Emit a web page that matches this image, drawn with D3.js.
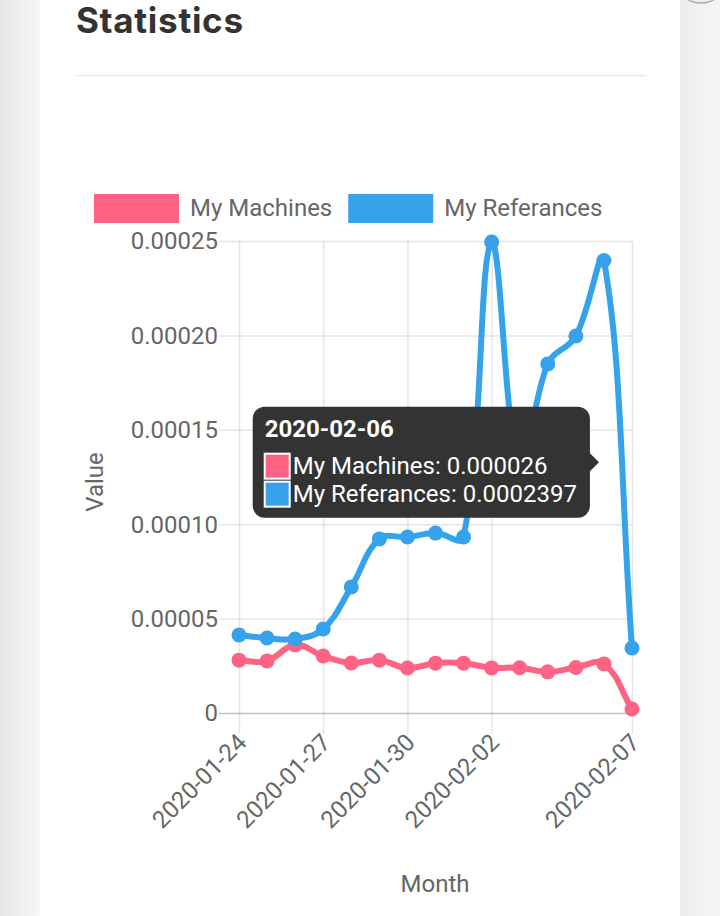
<!DOCTYPE html>
<html>
<head>
<meta charset="utf-8">
<script src="https://cdn.jsdelivr.net/npm/d3@7"></script>
<style>
    html, body { margin: 0; padding: 0; background: #f4f4f4; }
    svg { display: block; }
    text { font-family: Roboto, "Noto Sans", sans-serif; }
</style>
</head>
<body>
<div id="chart"></div>
<script>
// ===========================
// Statistics card
// Two daily series drawn as smooth lines with a hover tooltip
// ===========================

const dates = ['2020-01-24', '2020-01-25', '2020-01-26', '2020-01-27', '2020-01-28',
    '2020-01-29', '2020-01-30', '2020-01-31', '2020-02-01', '2020-02-02',
    '2020-02-03', '2020-02-04', '2020-02-05', '2020-02-06', '2020-02-07'];

const machines = [0.000028, 0.0000276, 0.0000361, 0.0000302, 0.0000265,
    0.000028, 0.0000238, 0.0000264, 0.0000264, 0.0000239,
    0.0000240, 0.0000218, 0.0000241, 0.000026, 0.0000021];

const referances = [0.0000413, 0.0000397, 0.0000392, 0.0000445, 0.0000667,
    0.0000922, 0.0000932, 0.0000953, 0.0000932, 0.0002495,
    0.00013, 0.0001849, 0.0001997, 0.0002397, 0.0000344];

const seriesNames = ['My Machines', 'My Referances'];
const seriesColors = ['#ff6384', '#36a2eb'];

const xTickLabels = ['2020-01-24', '2020-01-27', '2020-01-30', '2020-02-02', '2020-02-07'];
const yTicks = [0, 0.00005, 0.0001, 0.00015, 0.0002, 0.00025];
const yTickLabels = ['0', '0.00005', '0.00010', '0.00015', '0.00020', '0.00025'];

const hoverDate = '2020-02-06';

const width = 720, height = 916;
const plot = { left: 239, right: 632, top: 241, bottom: 713 };

const svg = d3.select('#chart')
    .append('svg')
    .attr('width', width)
    .attr('height', height);

// page background + card
const defs = svg.append('defs');
const leftGrad = defs.append('linearGradient').attr('id', 'leftShade');
leftGrad.append('stop').attr('offset', '0%').attr('stop-color', '#e6e6e6');
leftGrad.append('stop').attr('offset', '100%').attr('stop-color', '#f7f7f7');
const rightGrad = defs.append('linearGradient').attr('id', 'rightShade');
rightGrad.append('stop').attr('offset', '0%').attr('stop-color', '#ececec');
rightGrad.append('stop').attr('offset', '100%').attr('stop-color', '#f6f6f6');

svg.append('rect').attr('x', 0).attr('y', 0).attr('width', 40).attr('height', height)
    .attr('fill', 'url(#leftShade)');
svg.append('rect').attr('x', 680).attr('y', 0).attr('width', 40).attr('height', height)
    .attr('fill', 'url(#rightShade)');
svg.append('rect').attr('x', 40).attr('y', 0).attr('width', 640).attr('height', height)
    .attr('fill', '#fff');
svg.append('ellipse')
    .attr('cx', 701).attr('cy', -9).attr('rx', 19).attr('ry', 12)
    .attr('fill', '#eee').attr('stroke', '#aaa').attr('stroke-width', 1.5);

svg.append('text')
    .attr('x', 76)
    .attr('y', 33)
    .style('font-family', 'Inter, Lato, sans-serif')
    .style('font-size', '35px')
    .style('font-weight', '700')
    .attr('fill', '#333')
    .attr('textLength', 167)
    .text('Statistics');

svg.append('line')
    .attr('x1', 76).attr('x2', 645)
    .attr('y1', 75.5).attr('y2', 75.5)
    .attr('stroke', '#e8e8e8')
    .attr('stroke-width', 1.5);

// scales
const xScale = d3.scalePoint()
    .domain(dates)
    .range([plot.left, plot.right]);

const yScale = d3.scaleLinear()
    .domain([0, 0.00025])
    .range([plot.bottom, plot.top]);

// gridlines
const g = svg.append('g');

g.append('g')
    .attr('class', 'grid-y')
    .attr('transform', `translate(${plot.right},0)`)
    .call(d3.axisLeft(yScale).tickValues(yTicks).tickSize(plot.right - plot.left + 20).tickFormat(''))
    .call(a => a.select('.domain').remove())
    .call(a => a.selectAll('line')
        .attr('stroke', d => d === 0 ? 'rgba(0,0,0,0.25)' : 'rgba(0,0,0,0.1)')
        .attr('stroke-width', 1.5));

g.append('g')
    .attr('class', 'grid-x')
    .attr('transform', `translate(0,${plot.top})`)
    .call(d3.axisBottom(xScale).tickValues(xTickLabels).tickSize(plot.bottom - plot.top + 21).tickFormat(''))
    .call(a => a.select('.domain').remove())
    .call(a => a.selectAll('line')
        .attr('stroke', 'rgba(0,0,0,0.1)')
        .attr('stroke-width', 1.5));

// y tick labels
g.selectAll('.y-label')
    .data(yTicks)
    .join('text')
    .attr('class', 'y-label')
    .attr('x', 218)
    .attr('y', d => yScale(d))
    .attr('dy', '0.35em')
    .attr('text-anchor', 'end')
    .attr('fill', '#666')
    .style('font-size', '24px')
    .text((d, i) => yTickLabels[i]);

// x tick labels, rotated
g.selectAll('.x-label')
    .data(xTickLabels)
    .join('text')
    .attr('class', 'x-label')
    .attr('transform', d => `translate(${xScale(d) + 3},${738}) rotate(-45)`)
    .attr('dy', '0.35em')
    .attr('text-anchor', 'end')
    .attr('fill', '#666')
    .style('font-size', '24px')
    .text(d => d);

svg.append('text')
    .attr('transform', 'translate(103,482) rotate(-90)')
    .attr('text-anchor', 'middle')
    .attr('fill', '#666')
    .style('font-size', '24px')
    .text('Value');

svg.append('text')
    .attr('x', 435)
    .attr('y', 892)
    .attr('text-anchor', 'middle')
    .attr('fill', '#666')
    .style('font-size', '24px')
    .text('Month');

// chart.js-like bezier (tension 0.4, control points capped to plot area)
function splineCurve(context) {
    let pts;
    const clampX = v => Math.max(plot.left, Math.min(plot.right, v));
    const clampY = v => Math.max(plot.top, Math.min(plot.bottom, v));
    return {
        areaStart() {}, areaEnd() {},
        lineStart() { pts = []; },
        point(x, y) { pts.push({ x, y }); },
        lineEnd() {
            const t = 0.4;
            pts.forEach((p, i) => {
                const prev = pts[i - 1] || p;
                const next = pts[i + 1] || p;
                const d01 = Math.hypot(p.x - prev.x, p.y - prev.y);
                const d12 = Math.hypot(next.x - p.x, next.y - p.y);
                let s01 = d01 / (d01 + d12), s12 = d12 / (d01 + d12);
                if (isNaN(s01)) s01 = 0;
                if (isNaN(s12)) s12 = 0;
                p.cpPrev = { x: clampX(p.x - t * s01 * (next.x - prev.x)), y: clampY(p.y - t * s01 * (next.y - prev.y)) };
                p.cpNext = { x: clampX(p.x + t * s12 * (next.x - prev.x)), y: clampY(p.y + t * s12 * (next.y - prev.y)) };
            });
            pts.forEach((p, i) => {
                if (i === 0) { context.moveTo(p.x, p.y); return; }
                const a = pts[i - 1];
                context.bezierCurveTo(a.cpNext.x, a.cpNext.y, p.cpPrev.x, p.cpPrev.y, p.x, p.y);
            });
        }
    };
}

const series = [machines, referances];

const line = d3.line()
    .x((d, i) => xScale(dates[i]))
    .y(d => yScale(d))
    .curve(splineCurve);

series.forEach((values, s) => {
    g.append('path')
        .datum(values)
        .attr('fill', 'none')
        .attr('stroke', seriesColors[s])
        .attr('stroke-width', 6)
        .attr('stroke-linejoin', 'round')
        .attr('d', line);

    g.selectAll(`.pt-${s}`)
        .data(values)
        .join('circle')
        .attr('class', `pt-${s}`)
        .attr('cx', (d, i) => xScale(dates[i]))
        .attr('cy', d => yScale(d))
        .attr('r', 7.5)
        .attr('fill', seriesColors[s]);
});

// legend
const legend = svg.append('g').attr('class', 'legend');
let lx = 94;
seriesNames.forEach((name, i) => {
    legend.append('rect')
        .attr('x', lx).attr('y', 194)
        .attr('width', 85).attr('height', 29)
        .attr('fill', seriesColors[i]);
    const t = legend.append('text')
        .attr('x', lx + 96)
        .attr('y', 216)
        .attr('fill', '#666')
        .style('font-size', '24px')
        .text(name);
    lx += 96 + t.node().getComputedTextLength() + 16;
});

// tooltip for the hovered date
const hi = dates.indexOf(hoverDate);
const px = xScale(hoverDate);
const caretY = d3.mean(series, v => yScale(v[hi]));
const tip = svg.append('g').attr('class', 'tooltip');

const bodyLines = seriesNames.map((name, i) => `${name}: ${series[i][hi]}`);

const box = tip.append('rect').attr('fill', '#333').attr('rx', 12);
const caret = tip.append('path').attr('fill', '#333');

const titleText = tip.append('text')
    .attr('fill', '#fff')
    .style('font-size', '24px')
    .style('font-weight', '700')
    .text(hoverDate);

const lineTexts = bodyLines.map(txt => tip.append('text')
    .attr('fill', '#fff')
    .style('font-size', '24px')
    .text(txt));

const textW = d3.max(lineTexts, t => t.node().getComputedTextLength());
const boxW = 12 + 29 + textW + 12;
const boxH = 111;
const boxRight = px - 14;
const boxLeft = boxRight - boxW;
const boxTop = caretY - boxH / 2;

box.attr('x', boxLeft).attr('y', boxTop).attr('width', boxW).attr('height', boxH);
caret.attr('d', `M${boxRight - 1},${caretY - 10} L${px - 5},${caretY} L${boxRight - 1},${caretY + 10} Z`);

titleText.attr('x', boxLeft + 12).attr('y', boxTop + 30);

lineTexts.forEach((t, i) => {
    const rowY = boxTop + 47 + i * 28;
    tip.append('rect')
        .attr('x', boxLeft + 12).attr('y', rowY)
        .attr('width', 25).attr('height', 25)
        .attr('fill', seriesColors[i])
        .attr('stroke', '#fff')
        .attr('stroke-width', 2);
    t.attr('x', boxLeft + 40).attr('y', rowY + 20);
});
</script>
</body>
</html>
